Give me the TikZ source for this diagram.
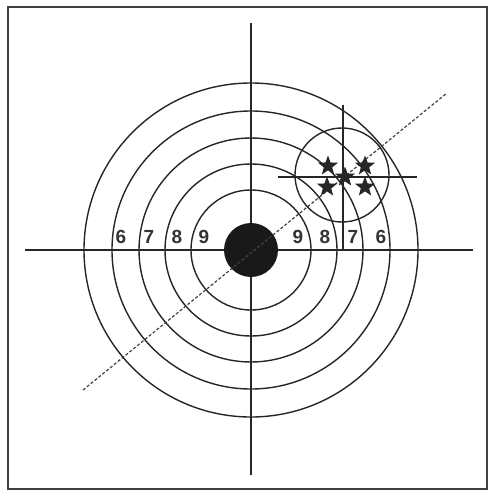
\documentclass[tikz,border=0pt]{standalone}
\usepackage{fontspec}
\setmainfont{Liberation Sans}
\usetikzlibrary{shapes.geometric}

\begin{document}
\begin{tikzpicture}[
    x=1pt, y=-1pt,
    ring/.style={draw=black!85, line width=1.4pt},
    crossline/.style={draw=black!85, line width=1.4pt},
    aimline/.style={draw=black!75, line width=1.2pt, dash pattern=on 3pt off 2pt},
    score/.style={font=\fontsize{19}{19}\selectfont\bfseries, text=black!80, inner sep=0pt},
    shot/.style={star, star points=5, star point ratio=2.4, fill=black!85,
        minimum size=21pt, inner sep=0pt},
]
\useasboundingbox (0,0) rectangle (488,492);
\draw[draw=black!75, line width=2.2pt] (8,7) rectangle (487,489);

% target
\coordinate (centre) at (251,250);
\draw[crossline] (251,23) -- (251,475);
\draw[crossline] (25,250) -- (473,250);
\foreach \r in {60,86,112,139,167}
    \draw[ring] (centre) circle[radius=\r pt];
\fill[black!90] (centre) circle[radius=27pt];

% ring values
\foreach \n/\d in {9/47, 8/74, 7/102, 6/130} {
    \node[score] (left\n) at ([xshift=-\d pt, yshift=13pt]centre) {\n};
    \node[score] (right\n) at ([xshift=\d pt, yshift=13pt]centre) {\n};
}

% aiming line
\coordinate (aimA) at (83,390);
\coordinate (aimB) at (447,93);
\draw[aimline] (aimA) -- (aimB);

% shot group
\coordinate (group) at (342,175);
\draw[ring] (group) circle[radius=47pt];
\coordinate (groupTop) at (343,105);
\draw[crossline] (groupTop) -- (groupTop |- centre);
\coordinate (groupL) at (278,177);
\coordinate (groupR) at (417,177);
\draw[crossline] (groupL) -- (groupR);

\node[shot] (shot1) at (328,166) {};
\node[shot] (shot2) at (365,166) {};
\node[shot] (shot3) at (345,177) {};
\node[shot] (shot4) at (327,187) {};
\node[shot] (shot5) at (365,187) {};

\end{tikzpicture}
\end{document}
